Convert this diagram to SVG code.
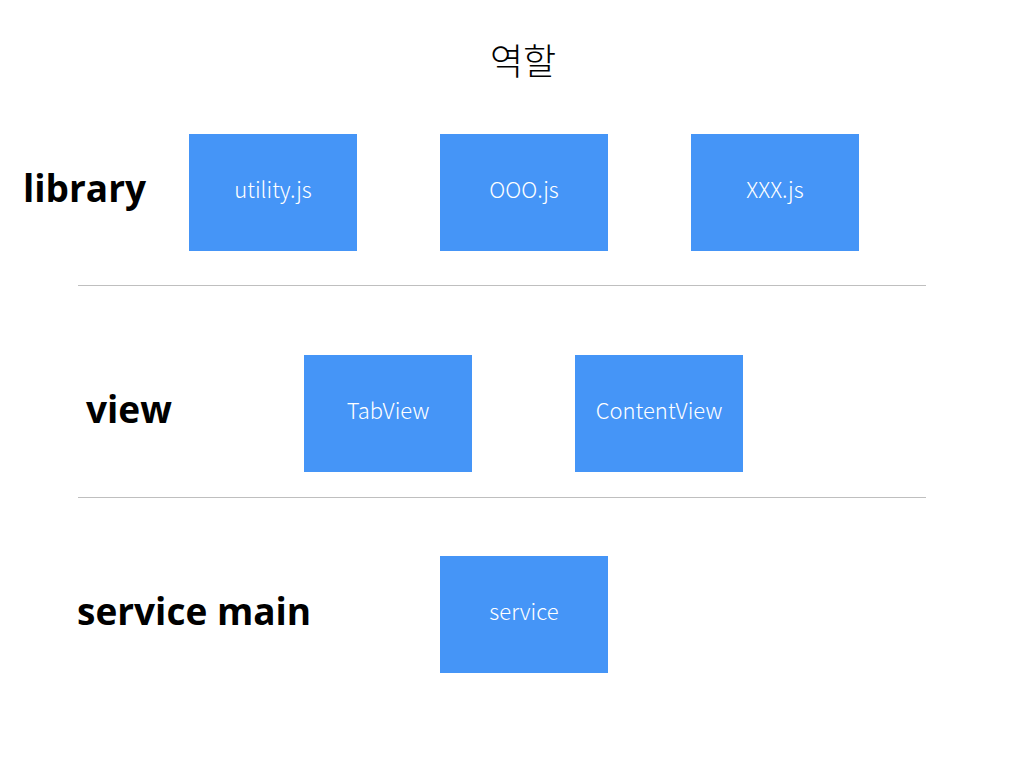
<svg xmlns="http://www.w3.org/2000/svg" width="1024" height="768" viewBox="0 0 1024 768">
<style>
.box{fill:#4595F7}
.bt{font-family:"Noto Sans CJK KR","Noto Sans",sans-serif;font-weight:300;font-size:22px;fill:#fff;text-anchor:middle}
.lbl{font-family:"Open Sans","Noto Sans",sans-serif;font-weight:700;font-size:37px;fill:#000}
.sep{stroke:#bfbfbf;stroke-width:1.2}
</style>
<rect width="1024" height="768" fill="#fff"/>
<text x="523" y="75" font-family="Noto Sans CJK KR, sans-serif" font-weight="300" font-size="36" text-anchor="middle" fill="#000">역할</text>
<text class="lbl" x="23" y="202">library</text>
<text class="lbl" x="86" y="423">view</text>
<text class="lbl" x="77" y="625">service main</text>
<g id="separators">
<line class="sep" x1="78" y1="285.5" x2="926" y2="285.5"/>
<line class="sep" x1="78" y1="497.5" x2="926" y2="497.5"/>
</g>
<g id="utility"><rect class="box" x="189" y="134" width="168" height="117"/><text class="bt" x="273" y="198">utility.js</text></g>
<g id="ooo"><rect class="box" x="440" y="134" width="168" height="117"/><text class="bt" x="524" y="198">OOO.js</text></g>
<g id="xxx"><rect class="box" x="691" y="134" width="168" height="117"/><text class="bt" x="775" y="198">XXX.js</text></g>
<g id="tabview"><rect class="box" x="304" y="355" width="168" height="117"/><text class="bt" x="388" y="419">TabView</text></g>
<g id="contentview"><rect class="box" x="575" y="355" width="168" height="117"/><text class="bt" x="659" y="419">ContentView</text></g>
<g id="service"><rect class="box" x="440" y="556" width="168" height="117"/><text class="bt" x="524" y="620">service</text></g>
<g id="connectors"></g>
</svg>
